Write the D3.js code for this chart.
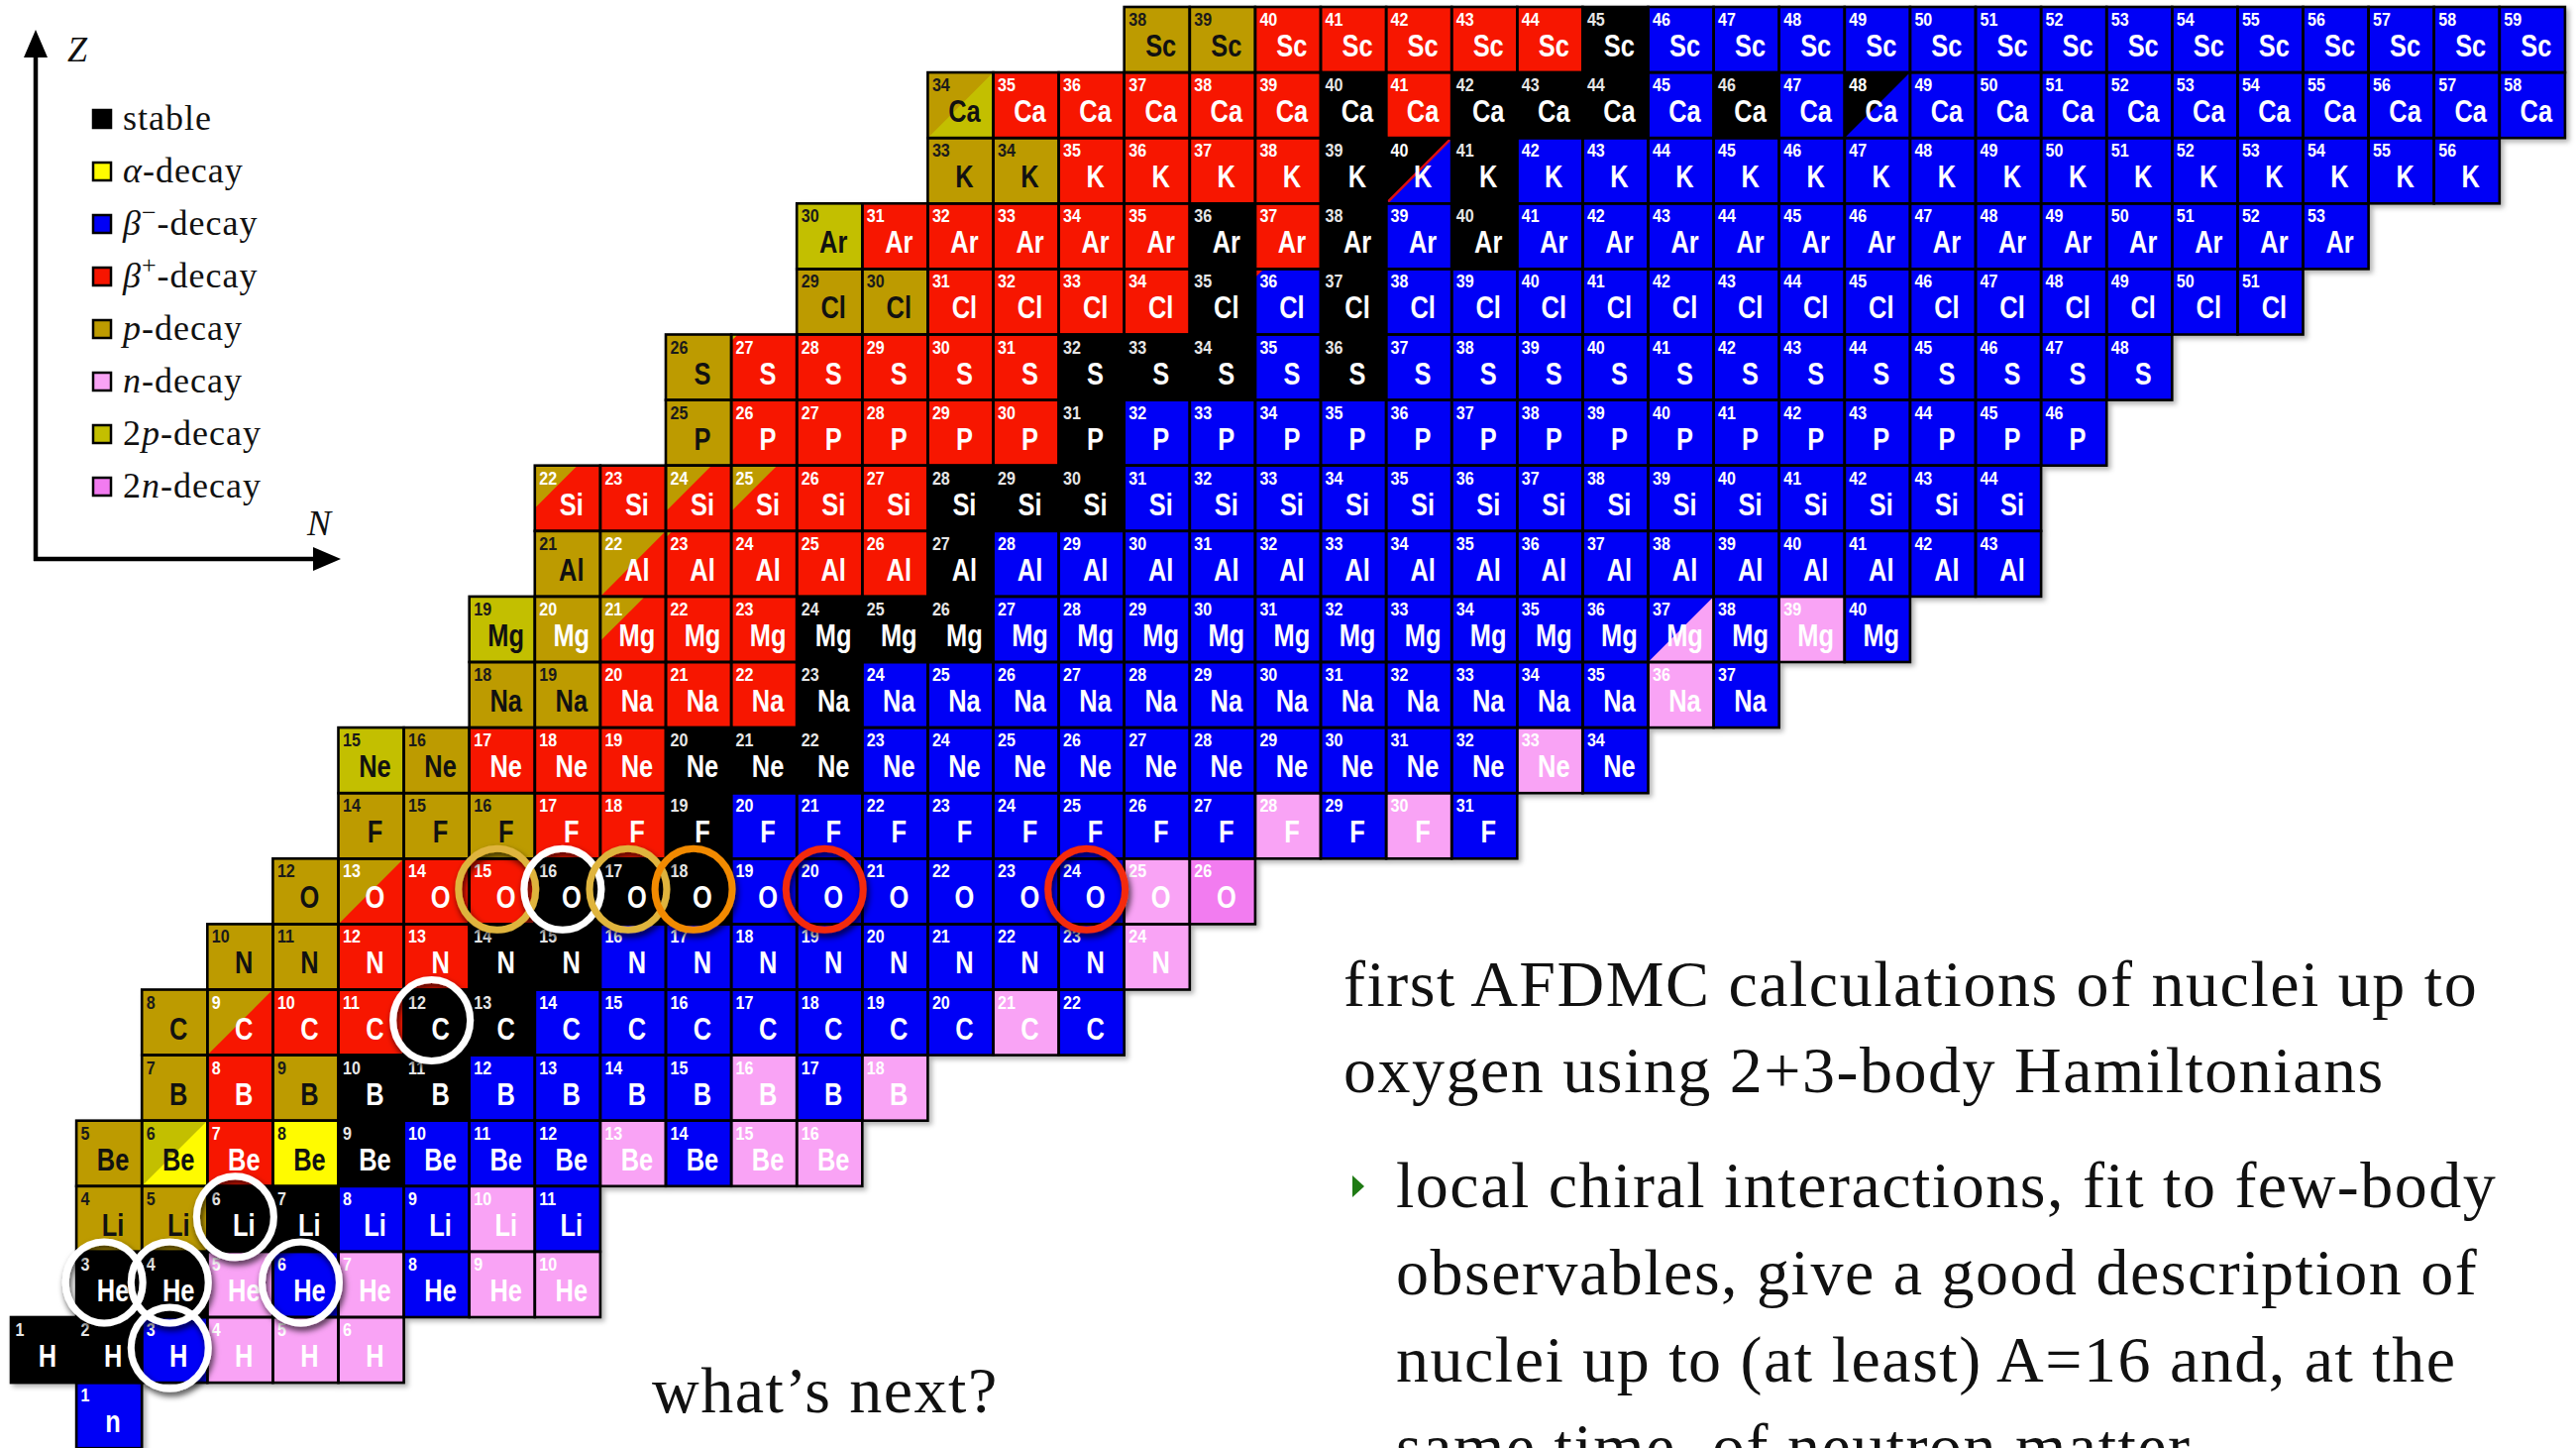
<!DOCTYPE html>
<html lang="en">
<head>
<meta charset="UTF-8">
<title>Chart of nuclides</title>
<script src="https://d3js.org/d3.v7.min.js"></script>
<style>
  body { margin: 0; background: #fff; }
  svg { display: block; }
  .serif { font-family: "Liberation Serif", "DejaVu Serif", serif; fill: #111; }
  .cell text { font-family: "Liberation Sans", Arial, sans-serif; font-weight: bold; }
</style>
</head>
<body>
<svg id="chart" width="2600" height="1461"></svg>
<script>
// one row per element (index = Z), decay mode of each isotope from the lightest one on
// s stable, a alpha, m beta-, p beta+, P p-decay, n n-decay, D 2p-decay, N 2n-decay
const elements = ["n","H","He","Li","Be","B","C","N","O","F","Ne","Na","Mg","Al","Si","P","S","Cl","Ar","K","Ca","Sc"];
const firstMass = [1,1,3,4,5,7,8,10,12,14,15,18,19,21,22,25,26,29,30,33,34,38];
const modes = [
  "m",
  "ssmnnn",
  "ssnmnmnn",
  "PPssmmnm",
  "Papasmmmnmnn",
  "PpPssmmmmnmn",
  "Ppppssmmmmmmmnm",
  "PPppssmmmmmmmmn",
  "PpppsssmmmmmmnN",
  "PPPppsmmmmmmmmnmnm",
  "DPpppsssmmmmmmmmmmnm",
  "PPpppsmmmmmmmmmmmmnm",
  "DPpppsssmmmmmmmmmmnmnm",
  "Ppppppsmmmmmmmmmmmmmmmm",
  "ppppppsssmmmmmmmmmmmmmm",
  "Ppppppsmmmmmmmmmmmmmmm",
  "Ppppppsssmsmmmmmmmmmmmm",
  "PPppppsmsmmmmmmmmmmmmmm",
  "Dpppppspsmsmmmmmmmmmmmmm",
  "PPppppsmsmmmmmmmmmmmmmmm",
  "Dpppppspsssmsmmmmmmmmmmmm",
  "PPpppppsmmmmmmmmmmmmmm"
];

// cells with a second mode in the upper-left corner: [symbol, A, mode, share of the edge]
const splits = [
  ["Ca",34,"P",1], ["Ca",48,"s",1], ["K",40,"s",1], ["Cl",36,"p",0.13], ["S",27,"D",0.1],
  ["Si",22,"P",0.65], ["Si",24,"P",0.7], ["Si",25,"P",0.7], ["Al",22,"P",1], ["Al",23,"P",0.1],
  ["Mg",21,"P",0.68], ["Mg",37,"m",1], ["O",13,"P",1], ["C",9,"P",1], ["Be",6,"D",1]
];
const redDiagonal = [["K",40]];
const lightText = ["Mg-20"];

// circled nuclei
const rings = [
  ["O",15,"#dfb43c"], ["O",16,"#ffffff"], ["O",17,"#dfb43c"], ["O",18,"#f28a00"],
  ["O",20,"#f42a08"], ["O",24,"#f42a08"], ["C",12,"#ffffff"], ["Li",6,"#ffffff"],
  ["He",3,"#ffffff"], ["He",4,"#ffffff"], ["He",6,"#ffffff"], ["H",3,"#ffffff"]
];

const modeColor = {s:"#000000", a:"#fffb00", m:"#0000f6", p:"#f71500", P:"#bd9b00", n:"#f9a3f5", D:"#c3bf00", N:"#f27bf0"};
const darkModes = "PDa";

const legendModes = ["s","a","m","p","P","n","D","N"];
const legendLabels = [
  [["stable"]],
  [["α","i"],["-decay"]],
  [["β","i"],["−","sup"],["-decay"]],
  [["β","i"],["+","sup"],["-decay"]],
  [["p","i"],["-decay"]],
  [["n","i"],["-decay"]],
  [["2"],["p","i"],["-decay"]],
  [["2"],["n","i"],["-decay"]]
];

const slideLines = ["first AFDMC calculations of nuclei up to", "oxygen using 2+3-body Hamiltonians"];
const bulletLines = ["local chiral interactions, fit to few-body", "observables, give a good description of",
  "nuclei up to (at least) A=16 and, at the", "same time, of neutron matter"];

const svg = d3.select("#chart");
const pitch = 66.1;
const x = d3.scaleBand().domain(d3.range(0, 39)).range([11, 11 + 39 * pitch]);
const y = d3.scaleBand().domain(d3.range(21, -1, -1)).range([7, 7 + 22 * pitch]);
const w = x.bandwidth(), h = y.bandwidth();

const defs = svg.append("defs");
defs.append("filter").attr("id", "gridShadow").attr("x", "-5%").attr("y", "-5%").attr("width", "110%").attr("height", "110%")
  .append("feDropShadow").attr("dx", 3).attr("dy", 3).attr("stdDeviation", 2.5).attr("flood-color", "#000").attr("flood-opacity", 0.3);
defs.append("filter").attr("id", "ringShadow").attr("x", "-30%").attr("y", "-30%").attr("width", "160%").attr("height", "160%")
  .append("feDropShadow").attr("dx", 2).attr("dy", 4).attr("stdDeviation", 3).attr("flood-color", "#000").attr("flood-opacity", 0.75);

const cells = [];
modes.forEach((row, Z) => {
  row.split("").forEach((m, i) => {
    const A = firstMass[Z] + i;
    cells.push({Z, A, N: A - Z, sym: elements[Z], mode: m});
  });
});
const find = (sym, A) => cells.find(c => c.sym === sym && c.A === A);

const grid = svg.append("g").attr("filter", "url(#gridShadow)");
grid.selectAll("rect.fill").data(cells).join("rect").attr("class", "fill")
  .attr("x", d => x(d.N)).attr("y", d => y(d.Z)).attr("width", w).attr("height", h)
  .attr("fill", d => modeColor[d.mode]);

grid.selectAll("path.corner").data(splits).join("path").attr("class", "corner")
  .attr("fill", d => modeColor[d[2]])
  .attr("d", d => {
    const c = find(d[0], d[1]), x0 = x(c.N), y0 = y(c.Z);
    return `M${x0},${y0}H${x0 + w * d[3]}L${x0},${y0 + h * d[3]}Z`;
  });

grid.selectAll("line.diag").data(redDiagonal).join("line").attr("class", "diag")
  .each(function(d) {
    const c = find(d[0], d[1]);
    d3.select(this).attr("x1", x(c.N) + 2).attr("y1", y(c.Z) + h - 2).attr("x2", x(c.N) + w - 2).attr("y2", y(c.Z) + 2);
  })
  .attr("stroke", "#e01010").attr("stroke-width", 2.5);

grid.selectAll("rect.edge").data(cells).join("rect").attr("class", "edge")
  .attr("x", d => x(d.N)).attr("y", d => y(d.Z)).attr("width", w).attr("height", h)
  .attr("fill", "none").attr("stroke", "#000").attr("stroke-width", 2.6);

const isDark = d => darkModes.includes(d.mode) && !lightText.includes(d.sym + "-" + d.A);
const labels = svg.append("g").attr("class", "cell");
labels.selectAll("text.mass").data(cells).join("text").attr("class", "mass")
  .attr("transform", d => `translate(${x(d.N) + 4.5},${y(d.Z) + 19}) scale(0.92,1)`)
  .attr("font-size", 17.5)
  .attr("fill", d => isDark(d) ? "#1a1a1a" : (d.mode === "s" ? "#e6e6e6" : "#ffffff"))
  .text(d => d.A);
labels.selectAll("text.sym").data(cells).join("text").attr("class", "sym")
  .attr("transform", d => `translate(${x(d.N) + 37},${y(d.Z) + 50}) scale(0.82,1)`)
  .attr("text-anchor", "middle").attr("font-size", 31)
  .attr("fill", d => isDark(d) ? "#111" : "#ffffff")
  .text(d => d.sym);

svg.append("g").attr("filter", "url(#ringShadow)")
  .selectAll("ellipse").data(rings).join("ellipse")
  .attr("cx", d => { const c = find(d[0], d[1]); return x(c.N) + w / 2 - 5; })
  .attr("cy", d => { const c = find(d[0], d[1]); return y(c.Z) + h / 2 - 2; })
  .attr("rx", 39).attr("ry", 41)
  .attr("fill", "none").attr("stroke", d => d[2]).attr("stroke-width", 7);

// axes sketch and legend, top left
const leg = svg.append("g");
leg.append("path").attr("d", "M36,566V52M34,564H322").attr("stroke", "#000").attr("stroke-width", 4.5).attr("fill", "none");
leg.append("path").attr("d", "M36,30L24,58L48,58Z").attr("fill", "#000");
leg.append("path").attr("d", "M344,564L316,552L316,576Z").attr("fill", "#000");
leg.append("text").attr("class", "serif").attr("x", 68).attr("y", 62).attr("font-size", 36).attr("font-style", "italic").text("Z");
leg.append("text").attr("class", "serif").attr("x", 310).attr("y", 540).attr("font-size", 36).attr("font-style", "italic").text("N");

const items = leg.selectAll("g.item").data(legendModes).join("g").attr("class", "item")
  .attr("transform", (d, i) => `translate(0,${120 + i * 53})`);
items.append("rect").attr("x", 94).attr("y", -9).attr("width", 18).attr("height", 18)
  .attr("fill", d => modeColor[d]).attr("stroke", "#000").attr("stroke-width", 2.5);
items.append("text").attr("class", "serif").attr("x", 124).attr("y", 11).attr("font-size", 36).attr("letter-spacing", 1)
  .each(function(d, i) {
    const t = d3.select(this);
    legendLabels[i].forEach(([s, st]) => {
      const sp = t.append("tspan").text(s);
      if (st === "i") sp.attr("font-style", "italic");
      if (st === "sup") sp.attr("font-size", 26).attr("baseline-shift", "super");
    });
  });

// slide text
const body = svg.append("g").attr("class", "serif").attr("font-size", 66).attr("letter-spacing", 1.5);
body.selectAll("text.head").data(slideLines).join("text").attr("class", "head")
  .attr("x", 1356).attr("y", (d, i) => 1015 + i * 87).text(d => d);
body.selectAll("text.bullet").data(bulletLines).join("text").attr("class", "bullet")
  .attr("x", 1409).attr("y", (d, i) => 1218 + i * 88).text(d => d);
svg.append("path").attr("d", "M1365,1186L1377,1197L1365,1208Z").attr("fill", "#1f7a14");
svg.append("text").attr("class", "serif").attr("x", 658).attr("y", 1425).attr("font-size", 66).attr("letter-spacing", 1.5)
  .text("what’s next?");
</script>
</body>
</html>
